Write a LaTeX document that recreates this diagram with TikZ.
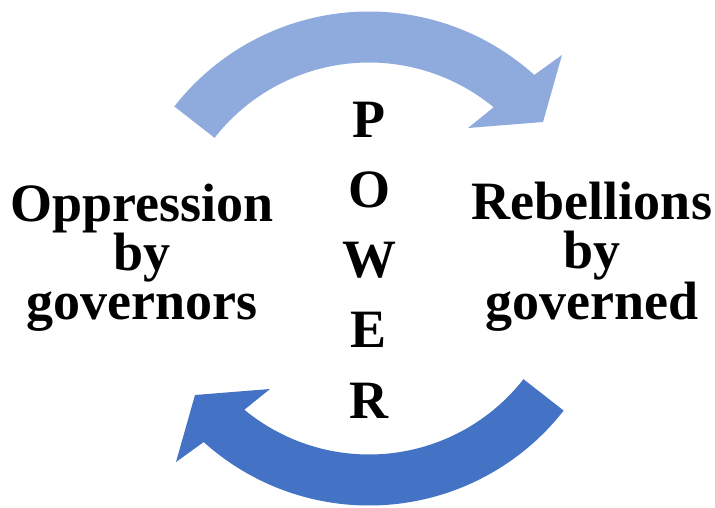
\documentclass[tikz,border=0pt]{standalone}
\usepackage{fontspec}
\setmainfont{Liberation Serif}
\usetikzlibrary{calc}
\definecolor{cycleLight}{HTML}{8FAADC}
\definecolor{cycleDark}{HTML}{4472C4}
\tikzset{
  % labels are placed by the baseline of their last line
  cyclelabel/.style={align=center, anchor=base, inner sep=0pt,
    font=\fontsize{54}{49}\selectfont\bfseries},
  powerlabel/.style={align=center, anchor=base, inner sep=0pt,
    font=\fontsize{54}{70.2}\selectfont\bfseries},
  % one curved block arrow, drawn around the origin of the current scope
  pics/curvedarrow/.style={code={
    \fill[#1] (142:247) arc[start angle=142, end angle=48, radius=247]
      -- (193,203.5) -- (174,136.5) -- (99,130.5)
      -- (50.5:196) arc[start angle=50.5, end angle=142, radius=196] -- cycle;
  }}
}
\begin{document}
\begin{tikzpicture}[x=1pt, y=1pt]
  \useasboundingbox (0,0) rectangle (715,507);
  \fill[white] (0,0) rectangle (715,507);
  \coordinate (C) at (369,248.5);

  % upper arrow, left to right
  \pic[shift={(C)}] {curvedarrow=cycleLight};
  % lower arrow, the same shape turned half a turn
  \pic[shift={(C)}, rotate=180] {curvedarrow=cycleDark};

  \node[cyclelabel] (oppression) at (142,188) {Oppression\\by\\governors};
  \node[cyclelabel] (rebellions) at (592,188) {Rebellions\\by\\governed};
  \node[powerlabel] (power) at (369,89) {P\\O\\W\\E\\R};
\end{tikzpicture}
\end{document}
